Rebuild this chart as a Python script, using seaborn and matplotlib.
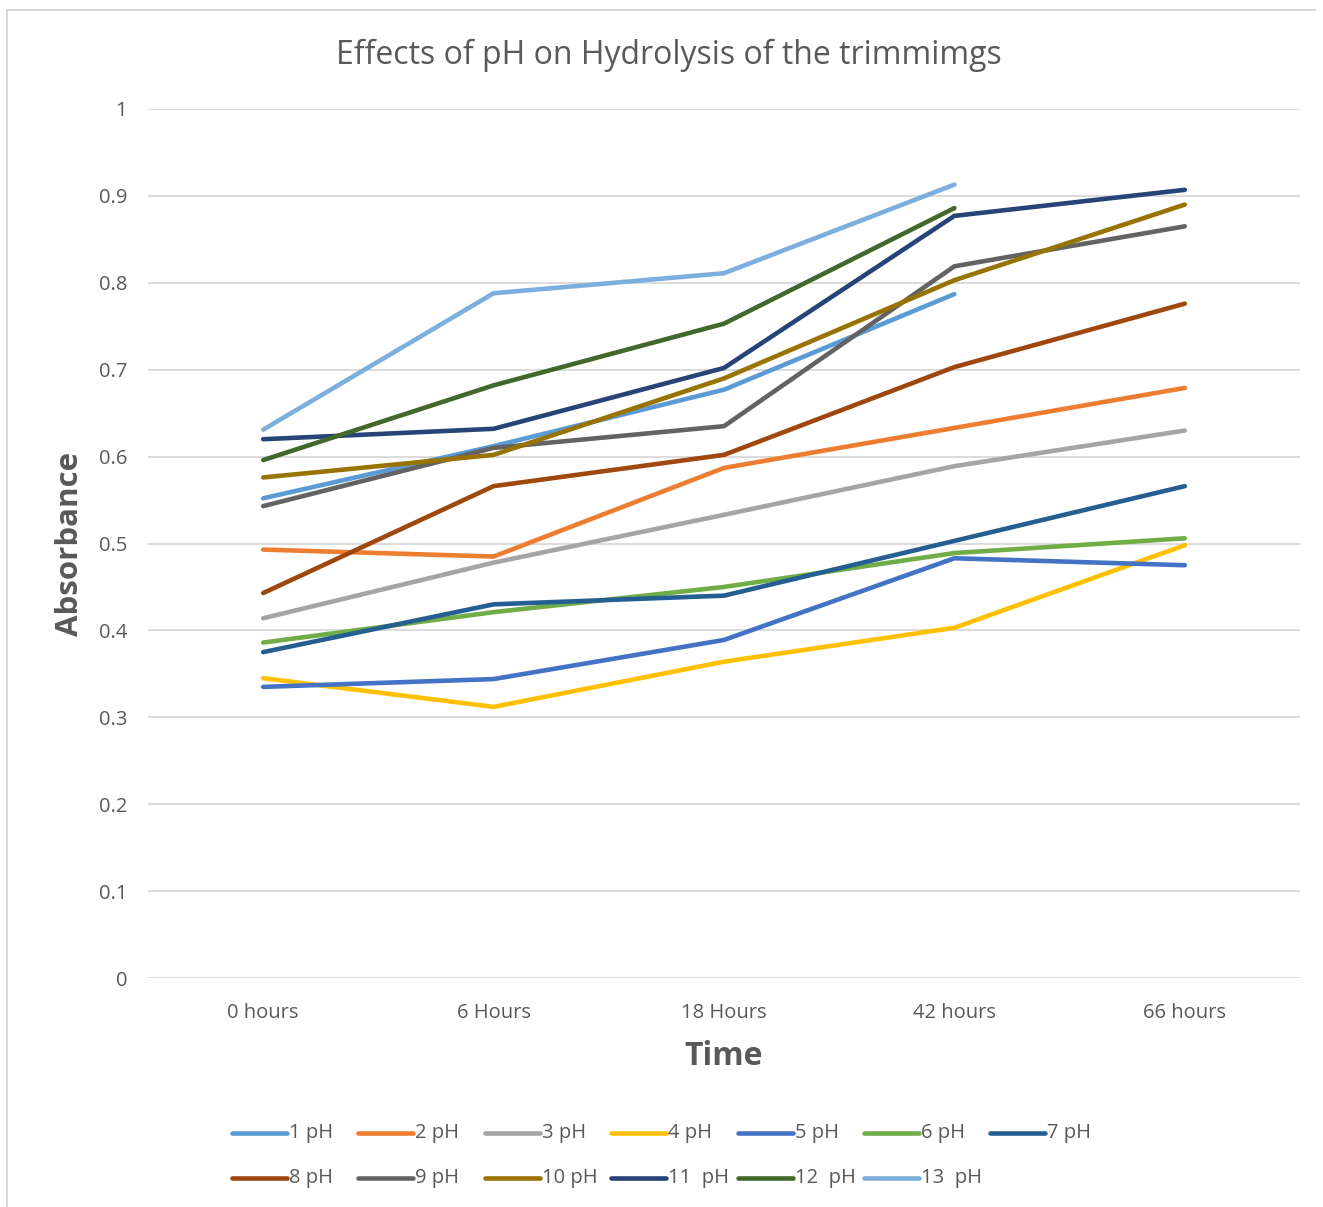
import numpy as np
import pandas as pd
import seaborn as sns
import matplotlib.pyplot as plt
from matplotlib.lines import Line2D

sns.set_theme(style="white")
plt.rcParams['font.family'] = ['Open Sans', 'DejaVu Sans']

times = ["0 hours", "6 Hours", "18 Hours", "42 hours", "66 hours"]
series_names = ["1 pH", "2 pH", "3 pH", "4 pH", "5 pH", "6 pH", "7 pH",
                "8 pH", "9 pH", "10 pH", "11  pH", "12  pH", "13  pH"]

ph1 = [0.552, 0.612, 0.677, 0.787, np.nan]
ph2 = [0.493, 0.485, 0.587, 0.633, 0.679]
ph3 = [0.414, 0.478, 0.533, 0.589, 0.630]
ph4 = [0.345, 0.312, 0.364, 0.403, 0.498]
ph5 = [0.335, 0.344, 0.389, 0.483, 0.475]
ph6 = [0.386, 0.421, 0.450, 0.489, 0.506]
ph7 = [0.375, 0.430, 0.440, 0.503, 0.566]
ph8 = [0.443, 0.566, 0.602, 0.703, 0.776]
ph9 = [0.543, 0.610, 0.635, 0.819, 0.865]
ph10 = [0.576, 0.602, 0.690, 0.803, 0.890]
ph11 = [0.620, 0.632, 0.702, 0.877, 0.907]
ph12 = [0.596, 0.682, 0.753, 0.886, np.nan]
ph13 = [0.631, 0.788, 0.811, 0.913, np.nan]

colors = ["#5B9BD5", "#ED7D31", "#A5A5A5", "#FFC000", "#4472C4", "#70AD47",
          "#255E91", "#9E480E", "#636363", "#997300", "#264478", "#43682B",
          "#7CAFDD"]

all_series = [ph1, ph2, ph3, ph4, ph5, ph6, ph7, ph8, ph9, ph10, ph11, ph12, ph13]
rows = []
for name, vals in zip(series_names, all_series):
    for t, v in zip(times, vals):
        rows.append({"Time": t, "Absorbance": v, "Series": name})
df = pd.DataFrame(rows).dropna()

W, H = 1323, 1207
TXT = "#595959"
fig = plt.figure(figsize=(W / 100, H / 100), dpi=100)
ax = fig.add_axes([148 / W, (H - 978) / H, (1300 - 148) / W, (978 - 109) / H])

sns.lineplot(data=df, x="Time", y="Absorbance", hue="Series",
             hue_order=series_names, palette=colors, linewidth=3.3,
             sort=False, legend=False, ax=ax, solid_capstyle="round")

ax.set_xlim(-0.5, len(times) - 0.5)
ax.set_ylim(0, 1)
ax.set_yticks(np.arange(0, 1.01, 0.1))
ax.set_yticklabels(["0", "0.1", "0.2", "0.3", "0.4", "0.5", "0.6", "0.7",
                    "0.8", "0.9", "1"])
ax.grid(axis="y", color="#D9D9D9", linewidth=1.3)
ax.set_axisbelow(True)
for s in ax.spines.values():
    s.set_visible(False)
ax.tick_params(axis="both", length=0, labelsize=14.5, labelcolor=TXT)
ax.tick_params(axis="y", pad=15)
ax.tick_params(axis="x", pad=18)

ax.set_xlabel("Time", fontsize=23, fontweight="bold", color=TXT, labelpad=12)
ax.set_ylabel("Absorbance", fontsize=22.5, fontweight="bold", color=TXT, labelpad=10)

fig.text(669 / W, 1 - 55 / H, "Effects of pH on Hydrolysis of the trimmimgs",
         ha="center", va="center", fontsize=23, color=TXT)

# legend laid out in two evenly spaced rows (7 + 6 entries)
x0, dx, handle_w = 232, 126.4, 55
row_y = [1133, 1178]
for i, (name, c) in enumerate(zip(series_names, colors)):
    r, col = divmod(i, 7)
    xs = x0 + col * dx
    y = 1 - row_y[r] / H
    fig.add_artist(Line2D([xs / W, (xs + handle_w) / W], [y, y], color=c,
                          linewidth=3.3, solid_capstyle="round",
                          transform=fig.transFigure))
    fig.text((xs + handle_w + 2) / W, y, name, ha="left", va="center",
             fontsize=14.5, color=TXT)

# chart frame edges
fig.add_artist(Line2D([7 / W, 7 / W], [0, 1 - 10 / H], color="#D9D9D9",
                      linewidth=1.5, transform=fig.transFigure))
fig.add_artist(Line2D([7 / W, 1315 / W], [1 - 10 / H, 1 - 10 / H], color="#D9D9D9",
                      linewidth=1.5, transform=fig.transFigure))

fig.savefig("out.png", dpi=100, facecolor="white")
